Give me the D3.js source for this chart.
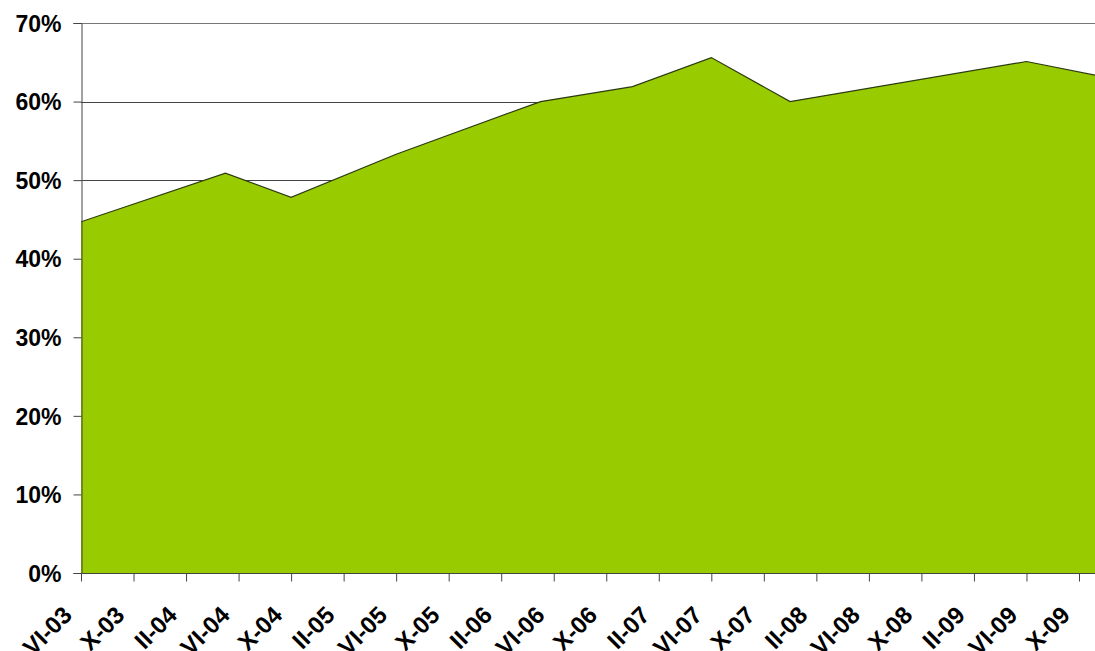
<!DOCTYPE html>
<html>
<head>
<meta charset="utf-8">
<script src="https://cdn.jsdelivr.net/npm/d3@7"></script>
<style>
  html, body { margin: 0; padding: 0; background: #fff; }
  svg { display: block; }
  text { font-family: "Liberation Sans", Arial, sans-serif; font-weight: bold; fill: #000; }
</style>
</head>
<body>
<script>
// ---- data ----
const surveyMonths = ["2003-06","2004-05","2004-10","2005-06","2006-05","2006-12","2007-06","2007-12","2009-06","2009-12"];
const shareValues  = [44.7, 50.9, 47.8, 53.3, 60.0, 61.9, 65.6, 60.0, 65.1, 63.1];
const tickLabels = ["VI-03","X-03","II-04","VI-04","X-04","II-05","VI-05","X-05","II-06","VI-06",
                    "X-06","II-07","VI-07","X-07","II-08","VI-08","X-08","II-09","VI-09","X-09"];
const yTicks = [0, 10, 20, 30, 40, 50, 60, 70];

// ---- layout ----
const W = 1095, H = 651;
const padLeft = 81, padRight = 1079, padTop = 23, padBottom = 573;

function monthIndex(s) {
  const [yr, m] = s.split("-").map(Number);
  return (yr - 2003) * 12 + (m - 6);
}
const data = surveyMonths.map((m, i) => ({ t: monthIndex(m), v: shareValues[i] }));
const tickMonths = tickLabels.map((d, i) => i * 4);

const x = d3.scaleLinear().domain([0, 76]).range([padLeft, padRight]);
const y = d3.scaleLinear().domain([0, 70]).range([padBottom, padTop]);

const svg = d3.select("body").append("svg").attr("width", W).attr("height", H);

svg.append("defs").append("clipPath").attr("id", "clip")
  .append("rect").attr("x", padLeft).attr("y", 0).attr("width", W - padLeft).attr("height", H);

// gridlines
svg.append("g").selectAll("line").data(yTicks.filter(d => d > 0)).join("line")
  .attr("x1", padLeft).attr("x2", W)
  .attr("y1", d => Math.round(y(d)) + 0.5).attr("y2", d => Math.round(y(d)) + 0.5)
  .attr("stroke", d => d === 70 ? "#777" : "#444").attr("stroke-width", 1);

// area
const area = d3.area().x(d => x(d.t)).y0(y(0)).y1(d => y(d.v));
const line = d3.line().x(d => x(d.t)).y(d => y(d.v));
const g = svg.append("g").attr("clip-path", "url(#clip)");
g.append("path").datum(data).attr("d", area).attr("fill", "#99CC00");
g.append("path").datum(data).attr("d", line).attr("fill", "none").attr("stroke", "#2b3a10").attr("stroke-width", 1.2);

// y axis
const yAxis = d3.axisLeft(y).tickValues(yTicks).tickFormat(d => d + "%").tickSize(8).tickPadding(12);
const ya = svg.append("g").attr("transform", `translate(${padLeft + 0.5},0)`).call(yAxis);
ya.attr("font-family", null).attr("font-size", null);
ya.select(".domain").attr("stroke", "#444");
ya.selectAll(".tick line").attr("stroke", "#444");
ya.selectAll(".tick text").style("font-size", "23px").attr("fill", "#000").attr("dy", "0.36em");

// x axis
const xAxis = d3.axisBottom(x).tickValues(tickMonths).tickFormat((d, i) => tickLabels[i]).tickSize(8).tickSizeOuter(0);
const xa = svg.append("g").attr("transform", `translate(0,${padBottom + 0.5})`).call(xAxis);
xa.attr("font-family", null).attr("font-size", null);
xa.select(".domain").attr("d", `M${padLeft},0H${W}`).attr("stroke", "#444");
xa.selectAll(".tick line").attr("stroke", "#444");
xa.selectAll(".tick text")
  .style("font-size", "24px")
  .attr("fill", "#000")
  .attr("text-anchor", "end")
  .attr("x", 0).attr("y", 0).attr("dy", 0)
  .attr("transform", "translate(-8,43) rotate(-45)");
</script>
</body>
</html>
